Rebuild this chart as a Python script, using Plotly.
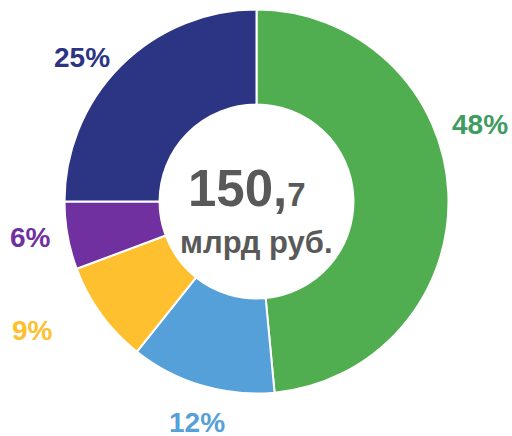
import plotly.graph_objects as go

labels = ["A", "B", "C", "D", "E"]
values = [48.5, 12.2, 8.6, 5.7, 25.0]
pct_text = ["48%", "12%", "9%", "6%", "25%"]
colors = ["#50AE50", "#55A0D8", "#FEC02E", "#7030A0", "#2B3584"]
label_colors = ["#3F9B5F", "#55A0D8", "#FEC02E", "#7030A0", "#2B3584"]
label_pos = [(480, 124), (197, 422), (32, 330), (30, 238), (82, 58)]

W, H = 512, 436
cx, cy, r = 256.5, 201.5, 192

fig = go.Figure(go.Pie(
    labels=labels, values=values, hole=0.505, sort=False, direction="clockwise",
    rotation=0, marker=dict(colors=colors, line=dict(color="white", width=2)),
    textinfo="none", hoverinfo="none", showlegend=False,
    domain=dict(x=[(cx - r) / W, (cx + r) / W], y=[1 - (cy + r) / H, 1 - (cy - r) / H]),
))

font = "Liberation Sans, Arial, sans-serif"
for t, c, (px, py) in zip(pct_text, label_colors, label_pos):
    fig.add_annotation(x=px / W, y=1 - py / H, xref="paper", yref="paper", text=f"<b>{t}</b>",
                       xanchor="center", yanchor="middle", borderpad=0,
                       showarrow=False, font=dict(family=font, size=28, color=c))

fig.add_annotation(x=247 / W, y=1 - 188 / H, xref="paper", yref="paper",
                   xanchor="center", yanchor="middle", borderpad=0,
                   text="<b>150,<span style='font-size:33px'>7</span></b>", showarrow=False,
                   font=dict(family=font, size=51, color="#595959"))
fig.add_annotation(x=cx / W, y=1 - 242 / H, xref="paper", yref="paper",
                   xanchor="center", yanchor="middle", borderpad=0,
                   text="<b>млрд руб.</b>", showarrow=False,
                   font=dict(family=font, size=31, color="#595959"))

fig.update_layout(width=W, height=H, margin=dict(l=0, r=0, t=0, b=0),
                  paper_bgcolor="white", plot_bgcolor="white")
fig.write_html("out.html", config={"displayModeBar": False},
               post_script="document.body.style.margin='0';document.body.style.overflow='hidden';")
